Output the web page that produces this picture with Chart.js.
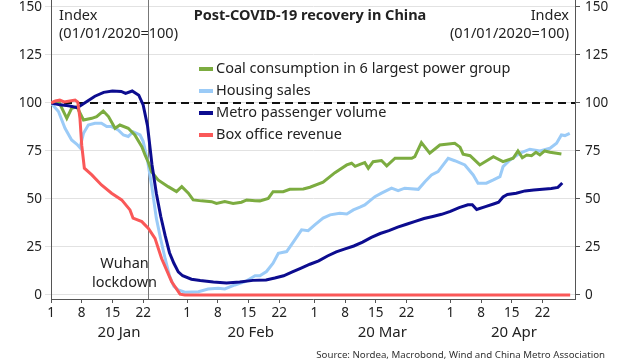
<!DOCTYPE html>
<html><head><meta charset="utf-8">
<script src="https://cdn.jsdelivr.net/npm/chart.js@4/dist/chart.umd.min.js"></script>
<style>html,body{margin:0;padding:0;background:#fff}#wrap{width:640px;height:360px}</style>
</head><body><div id="wrap"><canvas id="c" width="640" height="360"></canvas></div>
<script>
// ---- data (x = days since 1 Jan 2020, y = index, 01/01/2020 = 100) ----
const dayTicks = [0,7,14,21,31,38,45,52,60,67,74,81,91,98,105,112];
const dayTickLabels = ["1","8","15","22","1","8","15","22","1","8","15","22","1","8","15","22"];
const monthCenters = [15.5,45.5,75.5,105.5];
const monthLabels = ["20 Jan","20 Feb","20 Mar","20 Apr"];
const yTicks = [0,25,50,75,100,125,150];
const lockdownDay = 22;
const baselineValue = 100;
const seriesNames = ["Coal consumption in 6 largest power group","Housing sales","Metro passenger volume","Box office revenue"];

const coal = [[0,100],[1.7,101],[3.6,92],[4.7,97.2],[5.9,98],[7.4,91.1],[9.3,92],[10.4,92.9],[11.9,95.8],[13.1,92.9],[14.6,86.8],[15.7,88.5],[17.6,86.8],[19.1,83.3],[20.7,77.2],[21.5,72.5],[22.2,69],[22.9,64.2],[24.4,59.9],[26.7,56.4],[28.6,53.8],[29.8,56.4],[31.3,53],[32.4,49.5],[34.3,49],[36.6,48.6],[37.7,47.7],[39.6,48.6],[41.5,47.7],[43.4,48.3],[44.6,49.5],[46.5,49.1],[47.6,49],[49.5,50.3],[50.6,53.8],[52.9,53.8],[54.4,55],[57.5,55.2],[59,56.1],[62,58.7],[64.7,63.7],[67.4,67.7],[68.5,68.6],[69.3,67],[70.4,68],[71.5,68.9],[72.3,66],[73.4,69.4],[75.3,70],[76.5,67.2],[78.4,71.2],[82.2,71.2],[82.9,72],[84.4,79.3],[86.3,73.8],[88.6,78.1],[92,79],[93.2,77],[93.9,73.3],[95.5,72.5],[97.7,67.7],[100.8,72],[103,69.4],[105.3,71.2],[106.4,75],[107.4,71.5],[108.4,72.9],[109.5,72.5],[110.5,74.3],[111.4,72.9],[112.5,75],[113.7,74.3],[115.2,73.8],[116.3,73.4]];

const housing = [[0,100],[1.7,95.5],[3.2,86.8],[4.7,80.7],[5.9,78.5],[6.6,76.7],[7.4,84.2],[8.5,88.5],[10,89.4],[11.5,89.4],[12.7,87.7],[13.8,87.7],[15.3,85.9],[16.5,83.3],[17.6,82.5],[18.7,85],[20.3,83.3],[21,80],[22,70],[23,56],[24,40],[25,29],[26,19],[27,10],[28,4.5],[29,2.6],[30.5,1.4],[33.6,1.7],[35.8,3.1],[38.1,3.5],[39.6,3.1],[41.9,5.2],[44.2,6.9],[46.5,10],[47.6,10],[49.1,12.2],[50.6,16.5],[51.8,21.7],[53.7,22.6],[55.2,27.5],[57.1,33.9],[58.6,33.5],[60.1,36.5],[62,40],[63.6,41.7],[65.8,42.5],[67.4,42.2],[68.9,44.3],[70.4,45.7],[71.5,46.9],[73.8,51.2],[75.3,53],[77.6,55.6],[79.1,54.3],[80.6,55.6],[83.7,55],[85.2,59],[86.7,62.5],[88.2,64.2],[90.5,71.2],[92,69.9],[94.3,67.7],[96.2,62.5],[97.3,58.2],[99.2,58.2],[100.8,59.9],[102.3,61.6],[103,66.8],[104.6,70.3],[106.8,73.8],[109.1,75.9],[111.4,75],[113.7,76.4],[115.2,79],[116.3,83.3],[117.1,83],[118.2,84.2]];

const metro = [[0,100],[2,99],[4,98.5],[6,97.5],[8,100.5],[10,103.5],[12,105.5],[14,106.2],[16,106],[17,105],[18.5,106.2],[20,104],[21,99],[22,88],[23,68],[24,53],[25,41],[26,31],[27,22],[28,16.5],[29,12],[30,10],[32,8.2],[34,7.5],[37,6.7],[40,6.2],[43,6.8],[46,7.6],[49,7.8],[51,8.8],[53,10],[55,12],[57,14],[59,16],[61,17.8],[63,20.3],[65,22.4],[67,24],[69,25.5],[71,27.5],[73,30],[75,32],[77,33.5],[79,35.3],[81,36.8],[83,38.3],[85,39.8],[87,40.9],[89,42],[91,43.5],[93,45.5],[95,47],[96,47],[97,44.5],[99,46],[101,47.5],[102,48.3],[103,51],[104,52.3],[106,53],[108,54.2],[110,54.6],[112,55.1],[114,55.4],[115.5,56],[116.5,58.3]];

const boxOffice = [[0,100],[1,101],[2,101.5],[3,100.5],[4.3,101],[5.5,101.5],[6.1,100.5],[6.6,92],[7,78],[7.6,66],[9.3,62.5],[11.5,57.3],[13.8,53],[16.1,49.5],[18,44.3],[18.7,40],[20.7,38.2],[22.2,34.7],[23.7,29.5],[25.2,19],[27.5,6.9],[29.4,0.4],[30.5,0],[118.3,0]];

const colors = ["#7cac40","#9bcbf7","#0c0c8f","#fa5858"];

// ---- chart ----
const FONT = "'Noto Sans', sans-serif";
const toXY = a => a.map(p => ({x:p[0], y:p[1]}));
const X_MIN = 0, X_MAX = 119.4, Y_MIN = -2.1, Y_MAX = 153.6;

const overlay = {
  id:'overlay',
  beforeDatasetsDraw(chart){
    const {ctx, chartArea:a, scales:{x,y}} = chart;
    ctx.save();
    const lx = Math.round(x.getPixelForValue(lockdownDay))+0.5;
    ctx.strokeStyle = "#777"; ctx.lineWidth = 1;
    ctx.beginPath(); ctx.moveTo(lx, a.top); ctx.lineTo(lx, a.bottom); ctx.stroke();
    const by = y.getPixelForValue(baselineValue);
    ctx.strokeStyle = "#111"; ctx.lineWidth = 2; ctx.setLineDash([8,5]);
    ctx.beginPath(); ctx.moveTo(a.left, by); ctx.lineTo(a.right, by); ctx.stroke();
    ctx.restore();
  },
  afterDraw(chart){
    const {ctx, scales:{x}} = chart;
    ctx.save();
    ctx.fillStyle = "#222"; ctx.textBaseline = "middle";
    ctx.font = "bold 14.5px " + FONT; ctx.textAlign = "center";
    ctx.fillText("Post-COVID-19 recovery in China", 310, 16);
    ctx.font = "14.5px " + FONT; ctx.textAlign = "left";
    ctx.fillText("Index", 59, 16); ctx.fillText("(01/01/2020=100)", 59, 34);
    ctx.textAlign = "right";
    ctx.fillText("Index", 569, 16); ctx.fillText("(01/01/2020=100)", 569, 34);
    ctx.textAlign = "center";
    const lx = x.getPixelForValue(lockdownDay) - 23;
    ctx.fillText("Wuhan", lx, 264); ctx.fillText("lockdown", lx, 283);
    ctx.textAlign = "left";
    chart.data.datasets.forEach((d, i) => {
      const yy = 69 + i*22;
      ctx.strokeStyle = d.borderColor; ctx.lineWidth = 4;
      ctx.beginPath(); ctx.moveTo(199, yy); ctx.lineTo(213, yy); ctx.stroke();
      ctx.fillStyle = "#222"; ctx.font = "14.5px " + FONT;
      ctx.fillText(d.label, 216, yy);
    });
    ctx.font = "9.7px " + FONT; ctx.textAlign = "right"; ctx.fillStyle = "#333";
    ctx.fillText("Source: Nordea, Macrobond, Wind and China Metro Association", 605, 355);
    ctx.restore();
  }
};

const zeroPad = s => { s.paddingTop = 0; s.paddingBottom = 0; s.paddingLeft = 0; s.paddingRight = 0; };

new Chart(document.getElementById('c'), {
  type:'line',
  data:{ datasets:[
    {label:seriesNames[0], data:toXY(coal), borderColor:colors[0], order:2},
    {label:seriesNames[1], data:toXY(housing), borderColor:colors[1], order:3},
    {label:seriesNames[2], data:toXY(metro), borderColor:colors[2], order:1},
    {label:seriesNames[3], data:toXY(boxOffice), borderColor:colors[3], order:0}
  ].map(d => Object.assign(d, {borderWidth:3, pointRadius:0, fill:false, tension:0, xAxisID:'x', yAxisID:'y'}))},
  options:{
    responsive:false, animation:false, devicePixelRatio:1,
    layout:{padding:0},
    plugins:{legend:{display:false}, tooltip:{enabled:false}, title:{display:false}},
    scales:{
      x:{type:'linear', position:'bottom', min:X_MIN, max:X_MAX,
        afterBuildTicks:s => { s.ticks = dayTicks.map(v => ({value:v})); },
        ticks:{autoSkip:false, maxRotation:0, padding:2, color:"#222", font:{family:FONT, size:13.5},
          callback:(v, i) => dayTickLabels[i]},
        grid:{drawOnChartArea:false, drawTicks:true, tickLength:4, color:"#555"},
        border:{color:"#555"},
        afterFit:s => { s.height = 22; zeroPad(s); }},
      x2:{type:'linear', position:'bottom', min:X_MIN, max:X_MAX,
        afterBuildTicks:s => { s.ticks = monthCenters.map(v => ({value:v})); },
        ticks:{autoSkip:false, maxRotation:0, padding:3, color:"#222", font:{family:FONT, size:15},
          callback:(v, i) => monthLabels[i]},
        grid:{display:false, drawTicks:false}, border:{display:false},
        afterFit:s => { s.height = 39; zeroPad(s); }},
      y:{type:'linear', position:'left', min:Y_MIN, max:Y_MAX,
        afterBuildTicks:s => { s.ticks = yTicks.map(v => ({value:v})); },
        ticks:{padding:3, color:"#222", font:{family:FONT, size:13.5}},
        grid:{color:"#e2e2e2", tickLength:6},
        border:{color:"#555"},
        afterFit:s => { s.width = 51; zeroPad(s); }},
      y2:{type:'linear', position:'right', min:Y_MIN, max:Y_MAX,
        afterBuildTicks:s => { s.ticks = yTicks.map(v => ({value:v})); },
        ticks:{padding:5, color:"#222", font:{family:FONT, size:13.5}},
        grid:{drawOnChartArea:false, color:"#555", tickLength:5},
        border:{color:"#555"},
        afterFit:s => { s.width = 65; zeroPad(s); }}
    }
  },
  plugins:[overlay]
});
</script></body></html>
